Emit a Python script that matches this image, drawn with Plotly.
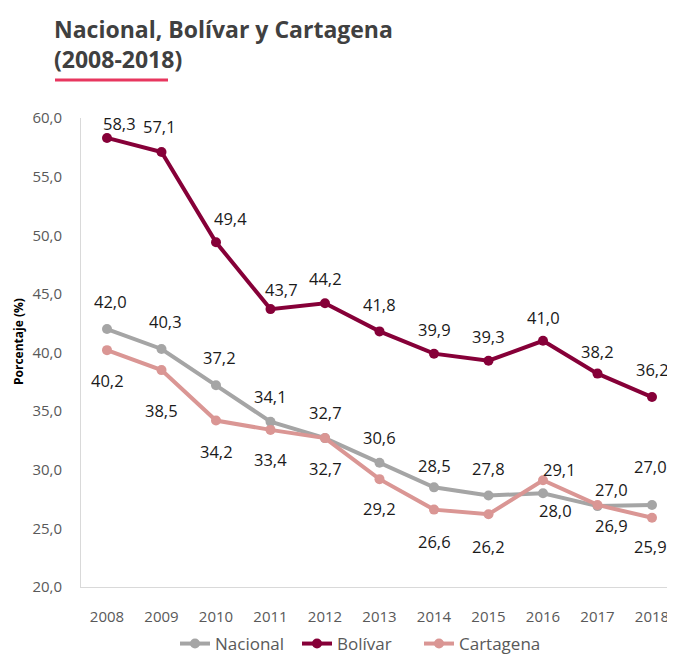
import plotly.graph_objects as go

years = [2008, 2009, 2010, 2011, 2012, 2013, 2014, 2015, 2016, 2017, 2018]
nacional = [42.0, 40.3, 37.2, 34.1, 32.7, 30.6, 28.5, 27.8, 28.0, 26.9, 27.0]
bolivar = [58.3, 57.1, 49.4, 43.7, 44.2, 41.8, 39.9, 39.3, 41.0, 38.2, 36.2]
cartagena = [40.2, 38.5, 34.2, 33.4, 32.7, 29.2, 26.6, 26.2, 29.1, 27.0, 25.9]
y_ticks = [20, 25, 30, 35, 40, 45, 50, 55, 60]

series = [
    ("Nacional", nacional, "#A5A5A5"),
    ("Bolívar", bolivar, "#860038"),
    ("Cartagena", cartagena, "#DA9694"),
]

# label offsets (pixels) per point
shifts = {
    "Nacional": [(3, 28), (4, 27), (3, 28), (0, 25), (0, 26), (0, 25), (0, 22), (0, 27), (12, -17), (14, -19), (-2, 38)],
    "Bolívar": [(12, 14), (-2, 26), (14, 24), (11, 20), (0, 25), (0, 27), (0, 24), (0, 24), (0, 23), (0, 22), (0, 28)],
    "Cartagena": [(0, -30), (0, -40), (0, -31), (0, -30), (0, -30), (0, -29), (0, -32), (0, -32), (16, 11), (14, 15), (-2, -29)],
}

fig = go.Figure()
annotations = []
for name, vals, color in series:
    fig.add_trace(go.Scatter(
        x=years, y=vals, name=name, mode="lines+markers",
        line=dict(color=color, width=4),
        marker=dict(color=color, size=10),
    ))
    for x, v, (dx, dy) in zip(years, vals, shifts[name]):
        annotations.append(dict(
            x=x, y=v, xref="x", yref="y", text=f"{v:.1f}".replace(".", ","),
            showarrow=False, xshift=dx, yshift=dy, xanchor="center", yanchor="middle",
            font=dict(family="Open Sans", size=16.5, color="#1a1a1a"),
        ))

# page body offset of 8px: positions below are in page pixels
OFF = 8
W, H = 675 - OFF, 654 - OFF
L = 81 - OFF
T = 118 - OFF
BOT = 587 - OFF
B = H - BOT
ph = BOT - T
pw = W - L


def px(xp):
    return (xp - OFF - L) / pw


def py(yp):
    return (BOT - (yp - OFF)) / ph


annotations.append(dict(
    x=px(52), y=py(44), xref="paper", yref="paper",
    xanchor="left", yanchor="middle", align="left", showarrow=False,
    text="<b>Nacional, Bolívar y Cartagena<br>(2008-2018)</b>",
    font=dict(family="Open Sans", size=23, color="#404040"),
))
annotations.append(dict(
    x=px(18), y=py(342), xref="paper", yref="paper",
    xanchor="center", yanchor="middle", showarrow=False, textangle=-90,
    text="<b>Porcentaje (%)</b>",
    font=dict(family="Open Sans", size=12, color="#000000"),
))

fig.update_layout(
    width=W, height=H,
    margin=dict(l=L, r=0, t=T, b=B, autoexpand=False),
    paper_bgcolor="white", plot_bgcolor="white",
    separators=",.",
    showlegend=True,
    legend=dict(orientation="h", x=px(175), xanchor="left",
                y=py(644), yanchor="middle",
                font=dict(family="Open Sans", size=17, color="#595959"),
                itemwidth=30, tracegroupgap=0, entrywidth=77),
    annotations=annotations,
    shapes=[dict(type="line", xref="paper", yref="paper",
                 x0=px(55), x1=px(168), y0=py(80), y1=py(80),
                 line=dict(color="#E8365F", width=3))],
)
fig.update_xaxes(
    range=[2008 - 26 / 54.5, 2018 + 23 / 54.5], tickmode="array", tickvals=years,
    ticktext=[str(y) for y in years], showgrid=False, zeroline=False,
    showline=True, linecolor="#D9D9D9", linewidth=1, ticks="",
    ticklabelstandoff=16,
    tickfont=dict(family="Open Sans", size=15, color="#595959"),
)
fig.update_yaxes(
    range=[20, 60], tickmode="array", tickvals=y_ticks,
    ticktext=[f"{v:.1f}".replace(".", ",") for v in y_ticks],
    showgrid=False, zeroline=False, showline=True, linecolor="#D9D9D9", linewidth=1,
    ticks="", ticklabelstandoff=15,
    tickfont=dict(family="Open Sans", size=15, color="#595959"),
)

fig.write_html("out.html")
